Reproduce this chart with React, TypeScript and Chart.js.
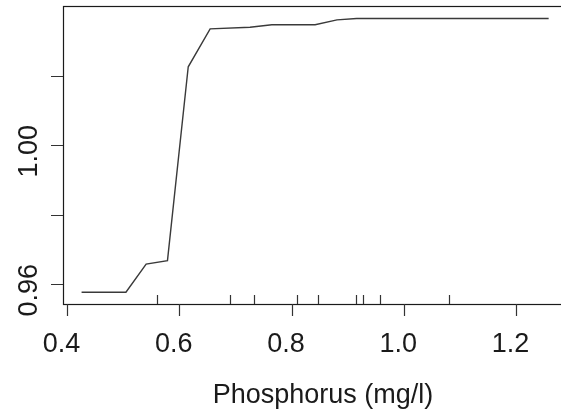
import React, { useEffect, useRef } from "react";
import { Chart, registerables } from "chart.js";

Chart.register(...registerables);

const phosphorus = [0.426, 0.505, 0.541, 0.579, 0.616, 0.655, 0.726, 0.765, 0.842, 0.881, 0.916, 1.258];
const response = [0.9577, 0.9577, 0.9658, 0.9668, 1.0226, 1.0335, 1.034, 1.0347, 1.0347, 1.0361, 1.0365, 1.0365];
const rugValues = [0.56, 0.69, 0.734, 0.809, 0.847, 0.915, 0.927, 0.957, 1.081];
const xTicks = [0.4, 0.6, 0.8, 1.0, 1.2];
const xTickLabels = ["0.4", "0.6", "0.8", "1.0", "1.2"];
const yTicks = [0.96, 0.98, 1.0, 1.02];
const yTickLabels = ["0.96", "", "1.00", ""];
const xTitle = "Phosphorus (mg/l)";

const X_MIN = 0.3929;
const X_MAX = 1.2907;
const Y_MIN = 0.9543;
const Y_MAX = 1.0401;

const FONT = '27px "Liberation Sans", Arial, sans-serif';

const rAxesPlugin = {
  id: "rAxes",
  afterDraw(chart: any) {
    const ctx = chart.ctx;
    const area = chart.chartArea;
    const xs = chart.scales.x;
    const ys = chart.scales.y;
    ctx.save();
    // box
    ctx.strokeStyle = "#1a1a1a";
    ctx.lineWidth = 1.2;
    ctx.strokeRect(Math.round(area.left) + 0.5, Math.round(area.top) + 0.5, area.right - area.left, area.bottom - area.top);
    // x ticks
    ctx.strokeStyle = "#333";
    ctx.lineWidth = 1.2;
    ctx.beginPath();
    xTicks.forEach((v) => {
      const px = Math.round(xs.getPixelForValue(v)) + 0.5;
      ctx.moveTo(px, area.bottom);
      ctx.lineTo(px, area.bottom + 12);
    });
    // rug
    rugValues.forEach((v) => {
      const px = Math.round(xs.getPixelForValue(v)) + 0.5;
      ctx.moveTo(px, area.bottom);
      ctx.lineTo(px, area.bottom - 9);
    });
    // y ticks
    yTicks.forEach((v) => {
      const py = Math.round(ys.getPixelForValue(v)) + 0.5;
      ctx.moveTo(area.left, py);
      ctx.lineTo(area.left - 12, py);
    });
    ctx.stroke();
    // labels
    ctx.fillStyle = "#1a1a1a";
    ctx.font = FONT;
    ctx.textAlign = "center";
    ctx.textBaseline = "alphabetic";
    xTicks.forEach((v, i) => {
      const px = xs.getPixelForValue(v) - 5.5;
      ctx.fillText(xTickLabels[i], px, area.bottom + 48);
    });
    yTicks.forEach((v, i) => {
      if (!yTickLabels[i]) return;
      const py = ys.getPixelForValue(v) + 6;
      ctx.save();
      ctx.translate(37, py);
      ctx.rotate(-Math.PI / 2);
      ctx.fillText(yTickLabels[i], 0, 0);
      ctx.restore();
    });
    ctx.fillText(xTitle, 323, 403);
    ctx.restore();
  },
};

export default function App() {
  const ref = useRef<HTMLCanvasElement | null>(null);
  useEffect(() => {
    if (!ref.current) return;
    const chart = new Chart(ref.current, {
      type: "line",
      data: {
        datasets: [
          {
            data: phosphorus.map((x, i) => ({ x, y: response[i] })),
            borderColor: "#3a3a3a",
            borderWidth: 1.4,
            pointRadius: 0,
            tension: 0,
            fill: false,
          },
        ],
      },
      options: {
        animation: false,
        responsive: false,
        devicePixelRatio: 1,
        layout: { padding: { left: 63, top: 6, right: 13, bottom: 110 } },
        plugins: { legend: { display: false }, tooltip: { enabled: false } },
        scales: {
          x: { type: "linear", min: X_MIN, max: X_MAX, display: false },
          y: { type: "linear", min: Y_MIN, max: Y_MAX, display: false },
        },
      },
      plugins: [rAxesPlugin],
    });
    return () => chart.destroy();
  }, []);
  return (
    <div style={{ position: "fixed", left: 0, top: 0, width: 561, height: 414, overflow: "hidden", background: "#fff" }}>
      <canvas ref={ref} width={580} height={414} style={{ width: 580, height: 414, display: "block" }} />
    </div>
  );
}
